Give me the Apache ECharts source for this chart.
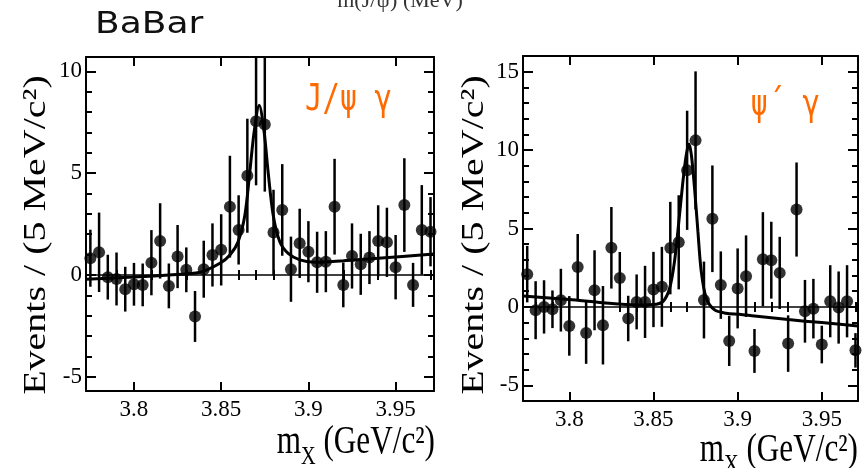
<!DOCTYPE html>
<html>
<head>
<meta charset="utf-8">
<script src="https://cdn.jsdelivr.net/npm/echarts@6/dist/echarts.min.js"></script>
<style>
  html, body { margin: 0; padding: 0; background: #fff; }
  #chart { width: 862px; height: 468px; }
</style>
</head>
<body>
<div id="chart"></div>
<script>
// Bin centres of the invariant-mass histograms (GeV/c^2), 5 MeV bins
const massBins = [
  3.775, 3.780, 3.785, 3.790, 3.795, 3.800, 3.805, 3.810, 3.815, 3.820,
  3.825, 3.830, 3.835, 3.840, 3.845, 3.850, 3.855, 3.860, 3.865, 3.870,
  3.875, 3.880, 3.885, 3.890, 3.895, 3.900, 3.905, 3.910, 3.915, 3.920,
  3.925, 3.930, 3.935, 3.940, 3.945, 3.950, 3.955, 3.960, 3.965, 3.970
];

// J/psi gamma channel: events per bin and their errors
const jpsiEvents = [
  0.82, 1.11, -0.11, -0.20, -0.70, -0.46, -0.49, 0.60, 1.67, -0.54,
  0.90, 0.25, -2.04, 0.28, 0.98, 1.23, 3.35, 2.21, 4.87, 7.55,
  7.39, 2.08, 3.19, 0.28, 1.55, 1.14, 0.62, 0.65, 3.35, -0.49,
  0.93, 0.52, 0.85, 1.67, 1.60, 0.38, 3.43, -0.49, 2.21, 2.12
];
const jpsiErrors = [
  1.40, 1.95, 1.10, 1.30, 1.10, 1.05, 1.05, 1.60, 1.85, 1.10,
  1.55, 1.10, 1.25, 1.40, 1.55, 1.75, 2.50, 1.70, 2.80, 3.15,
  3.30, 2.10, 2.25, 1.60, 1.70, 1.50, 1.50, 1.50, 2.35, 1.10,
  1.60, 1.50, 1.30, 1.75, 1.70, 1.58, 2.30, 1.08, 2.20, 1.70
];

// psi(2S) gamma channel: events per bin and their errors
const psi2Events = [
  2.09, -0.21, 0.00, -0.15, 0.43, -1.21, 2.55, -1.66, 1.06, -1.17,
  3.77, 1.85, -0.74, 0.32, 0.32, 1.11, 1.28, 3.75, 4.12, 8.71,
  10.62, 0.44, 5.62, 1.39, -2.17, 1.18, 1.96, -2.81, 3.04, 2.98,
  2.17, -2.34, 6.21, -0.28, -0.11, -2.40, 0.36, -0.04, 0.36, -2.77
];
const psi2Errors = [
  1.80, 1.85, 1.70, 1.20, 2.00, 1.90, 2.10, 1.97, 2.55, 2.50,
  2.60, 1.65, 1.45, 1.75, 2.30, 2.40, 2.55, 2.95, 3.00, 3.80,
  4.40, 2.45, 3.40, 2.15, 1.60, 2.55, 2.60, 1.40, 3.00, 2.45,
  2.30, 1.80, 3.00, 2.00, 1.90, 1.20, 2.30, 2.30, 2.30, 1.10
];

// Fitted signal + background curves
const jpsiFitMass = [
  3.7725, 3.800, 3.820, 3.8378, 3.8493, 3.855, 3.8597, 3.8636, 3.8664, 3.8689,
  3.8718, 3.8746, 3.8769, 3.8798, 3.8836, 3.8884, 3.8951, 3.9046, 3.920, 3.940, 3.972
];
const jpsiFitEvents = [
  -0.21, -0.10, 0.00, 0.13, 0.57, 0.98, 1.63, 2.94, 5.06, 7.03,
  8.33, 7.03, 5.06, 2.94, 1.63, 1.06, 0.74, 0.62, 0.70, 0.82, 1.03
];
const psi2FitMass = [
  3.7725, 3.800, 3.820, 3.840, 3.8497, 3.8556, 3.8596, 3.8625, 3.8651, 3.8675,
  3.8695, 3.8711, 3.8725, 3.8744, 3.8764, 3.8784, 3.8814, 3.8863, 3.8932, 3.901,
  3.910, 3.930, 3.950, 3.9715
];
const psi2FitEvents = [
  0.70, 0.47, 0.26, 0.12, 0.15, 0.34, 1.19, 2.90, 5.45, 8.00,
  9.70, 10.39, 9.70, 7.58, 4.81, 2.25, 0.55, -0.19, -0.40, -0.47,
  -0.58, -0.81, -1.00, -1.21
];

// Tick positions
const massMajorTicks = [3.80, 3.85, 3.90, 3.95];
const massMinorTicks = [
  3.78, 3.79, 3.81, 3.82, 3.83, 3.84, 3.86, 3.87, 3.88, 3.89,
  3.91, 3.92, 3.93, 3.94, 3.96, 3.97
];
const jpsiMajorTicks = [-5, 0, 5, 10];
const jpsiMinorTicks = [-4, -3, -2, -1, 1, 2, 3, 4, 6, 7, 8, 9];
const psi2MajorTicks = [-5, 0, 5, 10, 15];
const psi2MinorTicks = [-4, -3, -2, -1, 1, 2, 3, 4, 6, 7, 8, 9, 11, 12, 13, 14];

const SERIF = 'Liberation Serif';
const INK = '#000';

function hAxes(gridIndex, min, max) {
  const base = {
    type: 'value', gridIndex, min, max,
    splitLine: { show: false },
    axisLine: { show: true, onZero: false, lineStyle: { color: INK, width: 2 } }
  };
  return [
    Object.assign({}, base, {
      position: 'bottom',
      axisTick: { show: true, inside: true, length: 9, customValues: massMajorTicks, lineStyle: { color: INK, width: 2 } },
      axisLabel: { show: true, customValues: massMajorTicks, margin: 7, color: INK, fontFamily: SERIF, fontSize: 23 }
    }),
    Object.assign({}, base, {
      position: 'bottom', axisLine: { show: false },
      axisTick: { show: true, inside: true, length: 5, customValues: massMinorTicks, lineStyle: { color: INK, width: 2 } },
      axisLabel: { show: false }
    }),
    Object.assign({}, base, {
      position: 'top',
      axisTick: { show: true, inside: true, length: 9, customValues: massMajorTicks, lineStyle: { color: INK, width: 2 } },
      axisLabel: { show: false }
    }),
    Object.assign({}, base, {
      position: 'top', axisLine: { show: false },
      axisTick: { show: true, inside: true, length: 5, customValues: massMinorTicks, lineStyle: { color: INK, width: 2 } },
      axisLabel: { show: false }
    })
  ];
}

function vAxes(gridIndex, min, max, major, minor) {
  const base = {
    type: 'value', gridIndex, min, max,
    splitLine: { show: false },
    axisLine: { show: true, onZero: false, lineStyle: { color: INK, width: 2 } }
  };
  return [
    Object.assign({}, base, {
      position: 'left',
      axisTick: { show: true, inside: true, length: 10, customValues: major, lineStyle: { color: INK, width: 2 } },
      axisLabel: { show: true, customValues: major, margin: 4, color: INK, fontFamily: SERIF, fontSize: 23 }
    }),
    Object.assign({}, base, {
      position: 'left', axisLine: { show: false },
      axisTick: { show: true, inside: true, length: 6, customValues: minor, lineStyle: { color: INK, width: 2 } },
      axisLabel: { show: false }
    }),
    Object.assign({}, base, {
      position: 'right',
      axisTick: { show: true, inside: true, length: 10, customValues: major, lineStyle: { color: INK, width: 2 } },
      axisLabel: { show: false }
    }),
    Object.assign({}, base, {
      position: 'right', axisLine: { show: false },
      axisTick: { show: true, inside: true, length: 6, customValues: minor, lineStyle: { color: INK, width: 2 } },
      axisLabel: { show: false }
    })
  ];
}

function errorBarRender(params, api) {
  const m = api.value(0), v = api.value(1), e = api.value(2);
  const lo = api.coord([m, v - e]);
  const hi = api.coord([m, v + e]);
  const cs = params.coordSys;
  const top = cs.y, bottom = cs.y + cs.height;
  const y1 = Math.min(Math.max(lo[1], top), bottom);
  const y2 = Math.min(Math.max(hi[1], top), bottom);
  return {
    type: 'line',
    shape: { x1: lo[0], y1: y1, x2: hi[0], y2: y2 },
    style: { stroke: INK, lineWidth: 2.5 }
  };
}

function panelSeries(axisBase, events, errors, fitMass, fitEvents) {
  const xi = axisBase, yi = axisBase;
  return [
    {
      type: 'line', xAxisIndex: xi, yAxisIndex: yi,
      data: fitMass.map((m, i) => [m, fitEvents[i]]),
      smooth: 0.3, showSymbol: false, symbol: 'none', silent: true,
      lineStyle: { color: INK, width: 3 }, z: 3,
      markLine: {
        silent: true, symbol: ['none', 'none'], label: { show: false },
        lineStyle: { color: INK, width: 1.5, type: 'solid' },
        data: [{ yAxis: 0 }]
      }
    },
    {
      type: 'custom', xAxisIndex: xi, yAxisIndex: yi,
      renderItem: errorBarRender, silent: true, z: 4,
      data: massBins.map((m, i) => [m, events[i], errors[i]])
    },
    {
      type: 'scatter', xAxisIndex: xi, yAxisIndex: yi,
      data: massBins.map((m, i) => [m, events[i]]),
      symbol: 'circle', symbolSize: 12, silent: true, z: 5,
      itemStyle: { color: INK }
    }
  ];
}

const yTitle = 'Events / (5 MeV/c²)';
const xTitle = 'm{sub|X} (GeV/c²)';
const titleFont = '40px "Liberation Serif"';
const xTitleRich = { sub: { fontSize: 26, fontFamily: SERIF, verticalAlign: 'bottom', padding: [30, 0, 0, 0] } };

const option = {
  backgroundColor: '#fff',
  animation: false,
  textStyle: { fontFamily: SERIF },
  grid: [
    { left: 86, top: 57, width: 348, height: 334, containLabel: false },
    { left: 523, top: 56, width: 335, height: 345, containLabel: false }
  ],
  xAxis: [].concat(hAxes(0, 3.7725, 3.972), hAxes(1, 3.7725, 3.9715)),
  yAxis: [].concat(
    vAxes(0, -5.7, 10.7, jpsiMajorTicks, jpsiMinorTicks),
    vAxes(1, -6, 16, psi2MajorTicks, psi2MinorTicks)
  ),
  series: [].concat(
    panelSeries(0, jpsiEvents, jpsiErrors, jpsiFitMass, jpsiFitEvents),
    panelSeries(4, psi2Events, psi2Errors, psi2FitMass, psi2FitEvents)
  ),
  graphic: [
    { type: 'text', x: 95, y: 25, scaleX: 1.2,
      style: { text: 'BaBar', font: '30px "DejaVu Sans"', fill: '#111', textAlign: 'left', textVerticalAlign: 'middle' } },
    { type: 'text', x: 400, y: 12,
      style: { text: 'm(J/ψ) (MeV)', font: '22px "Liberation Serif"', fill: '#333', textAlign: 'center', textVerticalAlign: 'bottom' } },
    { type: 'text', x: 37, y: 235, rotation: Math.PI / 2, scaleY: 0.78,
      style: { text: yTitle, font: titleFont, fill: INK, textAlign: 'center', textVerticalAlign: 'middle' } },
    { type: 'text', x: 475, y: 235, rotation: Math.PI / 2, scaleY: 0.78,
      style: { text: yTitle, font: titleFont, fill: INK, textAlign: 'center', textVerticalAlign: 'middle' } },
    { type: 'text', x: 435, y: 442, scaleX: 0.78,
      style: { text: xTitle, font: titleFont, fill: INK, textAlign: 'right', textVerticalAlign: 'middle', rich: xTitleRich } },
    { type: 'text', x: 858, y: 450, scaleX: 0.78,
      style: { text: xTitle, font: titleFont, fill: INK, textAlign: 'right', textVerticalAlign: 'middle', rich: xTitleRich } },
    { type: 'text', x: 392, y: 100, scaleX: 0.78,
      style: { text: 'J/ψ γ', font: '37px "DejaVu Sans Mono"', fill: '#ff6a00', textAlign: 'right', textVerticalAlign: 'middle' } },
    { type: 'text', x: 820, y: 105, scaleX: 0.78,
      style: { text: 'ψ´ γ', font: '37px "DejaVu Sans Mono"', fill: '#ff6a00', textAlign: 'right', textVerticalAlign: 'middle' } }
  ]
};

const chart = echarts.init(document.getElementById('chart'), null, { renderer: 'canvas' });
chart.setOption(option);
</script>
</body>
</html>
